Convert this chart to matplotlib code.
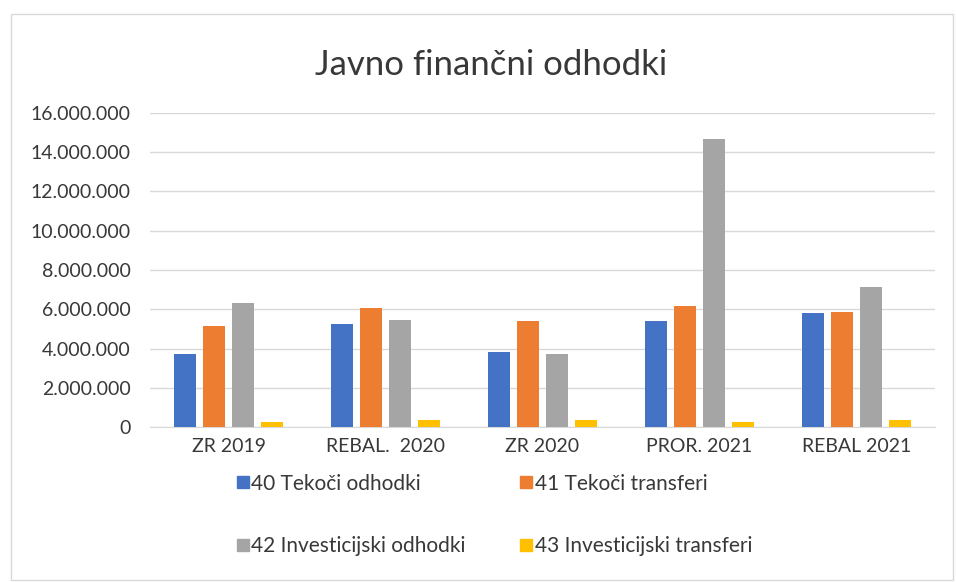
import numpy as np
import matplotlib.pyplot as plt
from matplotlib.lines import Line2D
from matplotlib.patches import Rectangle
from matplotlib.ticker import FuncFormatter

plt.rcParams['font.family'] = ['Lato', 'DejaVu Sans']

categories = ["ZR 2019", "REBAL.  2020", "ZR 2020", "PROR. 2021", "REBAL 2021"]
series_names = ["40 Tekoči odhodki", "41 Tekoči transferi",
                "42 Investicijski odhodki", "43 Investicijski transferi"]
tekoci_odhodki = [3720000, 5230000, 3840000, 5390000, 5800000]
tekoci_transferi = [5150000, 6050000, 5400000, 6170000, 5850000]
investicijski_odhodki = [6300000, 5450000, 3750000, 14660000, 7150000]
investicijski_transferi = [270000, 390000, 390000, 270000, 360000]
colors = ["#4472C4", "#ED7D31", "#A5A5A5", "#FFC000"]

values = [tekoci_odhodki, tekoci_transferi, investicijski_odhodki, investicijski_transferi]

fig = plt.figure(figsize=(9.56, 5.82), dpi=100)
ax = fig.add_axes([0.157, 0.266, 0.821, 0.54])

x = np.arange(len(categories))
width = 0.14
pitch = 0.185
for i, (vals, col) in enumerate(zip(values, colors)):
    ax.bar(x + (i - 1.5) * pitch, vals, width, color=col, zorder=3)

ax.set_ylim(0, 16000000)
ax.set_xlim(-0.5, len(categories) - 0.5)
ax.set_yticks(np.arange(0, 16000001, 2000000))
ax.yaxis.set_major_formatter(FuncFormatter(lambda v, p: f"{int(v):,}".replace(",", ".")))
ax.set_xticks(x)
ax.set_xticklabels(categories)
ax.grid(axis='y', color='#D9D9D9', linewidth=1, zorder=0)
for s in ['top', 'right', 'left']:
    ax.spines[s].set_visible(False)
ax.spines['bottom'].set_color('#D9D9D9')
ax.tick_params(axis='both', length=0, labelsize=14, colors='#383838', pad=8)
ax.tick_params(axis='y', pad=14)

fig.text(0.514, 0.888, "Javno finančni odhodki", ha='center', va='center',
         fontsize=25, color='#383838')

handles = [Line2D([], [], marker='s', linestyle='none', markersize=8,
                  color=c) for c in colors]
order = [0, 2, 1, 3]
fig.legend([handles[i] for i in order], [series_names[i] for i in order],
           ncol=2, loc='center', bbox_to_anchor=(0.516, 0.115), frameon=False,
           fontsize=15, handletextpad=0.0, handlelength=0.8,
           labelspacing=2.05, columnspacing=2.5, labelcolor='#383838')

fig.patches.append(Rectangle((0.0115, 0.003), 0.985, 0.973, transform=fig.transFigure,
                             fill=False, edgecolor='#D9D9D9', linewidth=1))

fig.savefig("out.png", dpi=100)
